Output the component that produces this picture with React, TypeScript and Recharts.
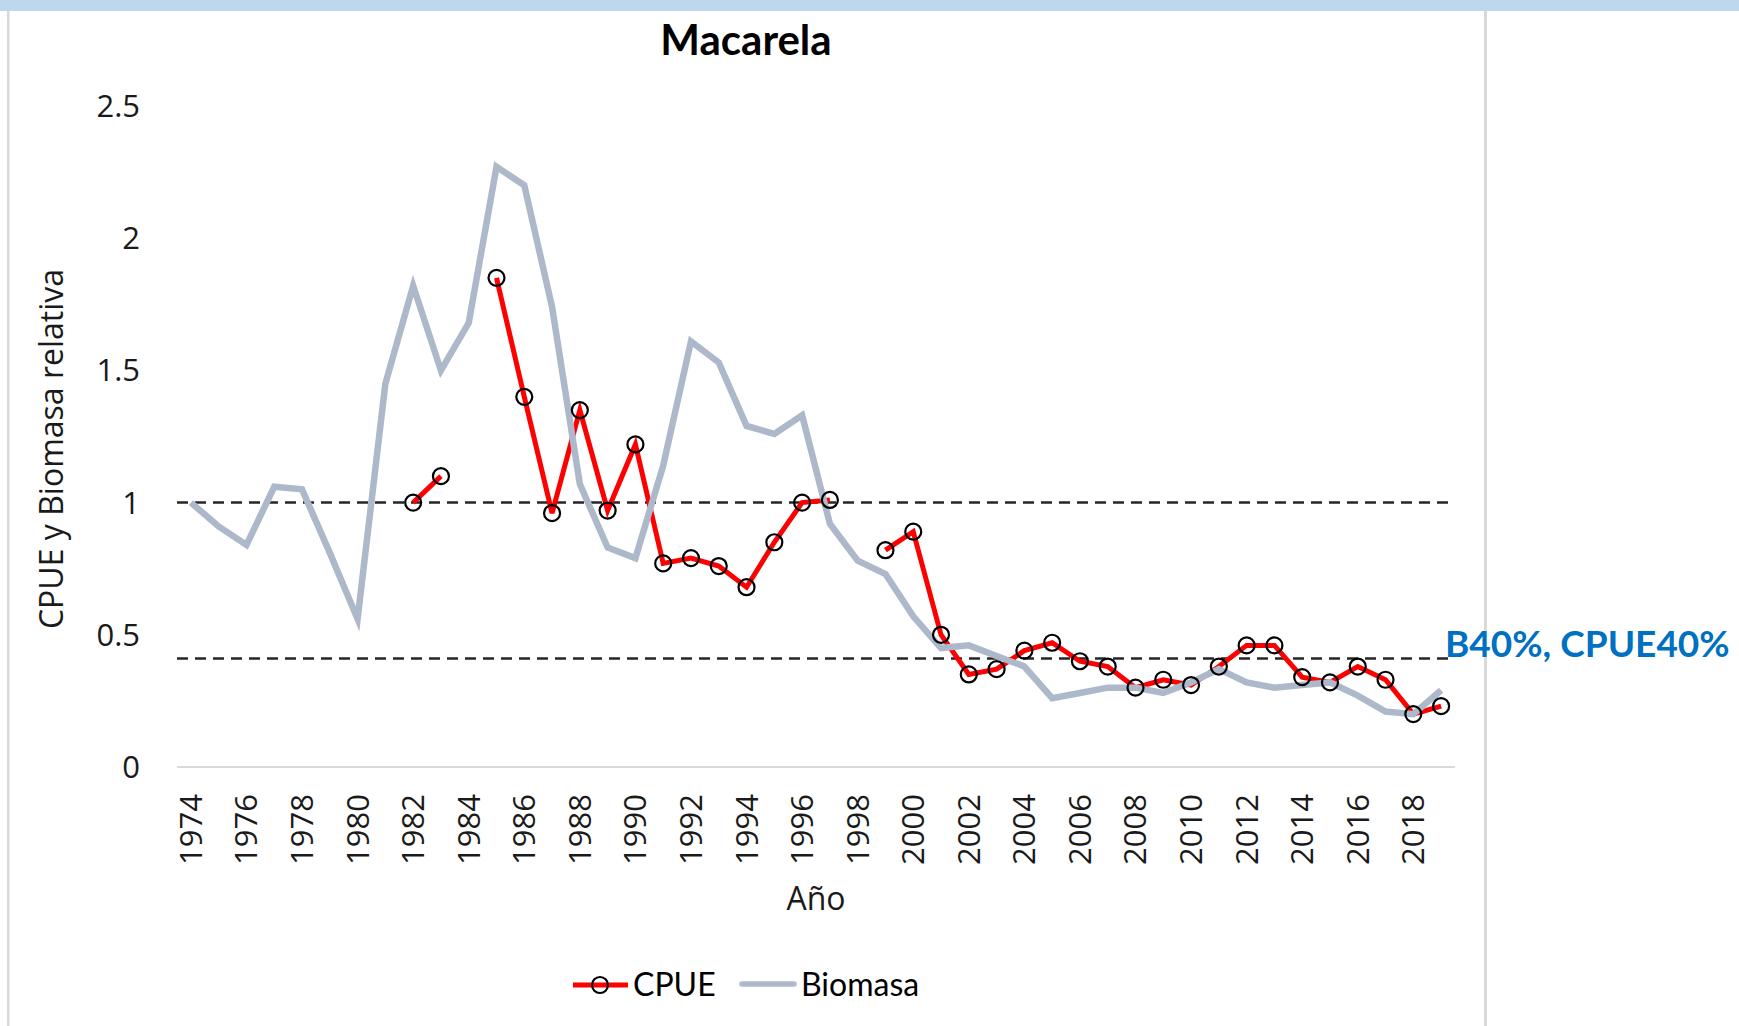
import { LineChart, Line, XAxis, YAxis, ReferenceLine } from 'recharts';

const years = [
  '1974', '1975', '1976', '1977', '1978', '1979', '1980', '1981', '1982', '1983',
  '1984', '1985', '1986', '1987', '1988', '1989', '1990', '1991', '1992', '1993',
  '1994', '1995', '1996', '1997', '1998', '1999', '2000', '2001', '2002', '2003',
  '2004', '2005', '2006', '2007', '2008', '2009', '2010', '2011', '2012', '2013',
  '2014', '2015', '2016', '2017', '2018', '2019',
];

// CPUE relativa (huecos = sin dato)
const cpue = [
  null, null, null, null, null, null, null, null, 1.0, 1.1,
  null, 1.85, 1.4, 0.96, 1.35, 0.97, 1.22, 0.77, 0.79, 0.76,
  0.68, 0.85, 1.0, 1.01, null, 0.82, 0.89, 0.5, 0.35, 0.37,
  0.44, 0.47, 0.4, 0.38, 0.3, 0.33, 0.31, 0.38, 0.46, 0.46,
  0.34, 0.32, 0.38, 0.33, 0.2, 0.23,
];

// Biomasa relativa
const biomasa = [
  1.0, 0.91, 0.84, 1.06, 1.05, 0.81, 0.56, 1.45, 1.82, 1.5,
  1.68, 2.27, 2.2, 1.74, 1.07, 0.83, 0.79, 1.14, 1.61, 1.53,
  1.29, 1.26, 1.33, 0.92, 0.78, 0.73, 0.57, 0.45, 0.46, 0.42,
  0.38, 0.26, 0.28, 0.3, 0.3, 0.28, 0.32, 0.37, 0.32, 0.3,
  0.31, 0.32, 0.27, 0.21, 0.2, 0.29,
];

const yTicks = [0, 0.5, 1, 1.5, 2, 2.5];
const refLevel = 1;
const b40Level = 0.41;
const b40Text = 'B40%, CPUE40%';

const data = years.map((year, i) => ({ year, cpue: cpue[i], biomasa: biomasa[i] }));

const W = 1739;
const H = 1026;
const tickFont = '"Open Sans", sans-serif';
const calFont = 'Lato, sans-serif';

function YearTick(props: any) {
  const { x, y, payload } = props;
  const tx = x + 11;
  return (
    <text
      x={tx}
      y={y}
      transform={`rotate(-90, ${tx}, ${y})`}
      textAnchor="end"
      fontSize={31}
      fontFamily={tickFont}
      fill="#1a1a1a"
    >
      {payload.value}
    </text>
  );
}

function B40Label(props: any) {
  const vb = props.viewBox;
  return (
    <text
      x={vb.x + vb.width - 10}
      y={vb.y - 2}
      fontSize={37}
      fontWeight={700}
      fontFamily={calFont}
      fill="#0070C0"
    >
      {b40Text}
    </text>
  );
}

export default function App() {
  return (
    <div style={{ position: 'absolute', left: 0, top: 0, width: W, height: H, background: '#fff', overflow: 'hidden' }}>
      {/* spreadsheet frame behind the chart */}
      <svg width={W} height={H} style={{ position: 'absolute', left: 0, top: 0 }}>
        <rect x={0} y={0} width={W} height={11} fill="#BDD7EE" />
        <rect x={7} y={11} width={2.5} height={H - 11} fill="#d9d9d9" />
        <rect x={1484} y={11} width={3} height={H - 11} fill="#d9d9d9" />
      </svg>

      <div style={{ position: 'absolute', left: 0, top: 0 }}>
        <LineChart
          width={W}
          height={H}
          data={data}
          margin={{ top: 106, right: 284, bottom: 129, left: 27 }}
        >
          <XAxis
            dataKey="year"
            interval={1}
            height={130}
            padding={{ left: 13.9, right: 13.9 }}
            tickLine={false}
            tickSize={0}
            tickMargin={27}
            axisLine={{ stroke: '#d9d9d9', strokeWidth: 2 }}
            tick={<YearTick />}
          />
          <YAxis
            domain={[0, 2.5]}
            ticks={yTicks}
            width={150}
            axisLine={false}
            tickLine={false}
            tickSize={0}
            tickMargin={37}
            tick={{ fontSize: 31, fill: '#1a1a1a', fontFamily: tickFont }}
          />
          <ReferenceLine y={refLevel} stroke="#262626" strokeWidth={2.5} strokeDasharray="11 7" />
          <ReferenceLine
            y={b40Level}
            stroke="#262626"
            strokeWidth={2.5}
            strokeDasharray="11 7"
            label={(p: any) => <B40Label {...p} />}
          />
          <Line
            dataKey="cpue"
            stroke="#FF0000"
            strokeWidth={5}
            dot={{ r: 8, stroke: '#000', strokeWidth: 2.2, fill: 'none' }}
            activeDot={false}
            connectNulls={false}
            isAnimationActive={false}
          />
          <Line
            dataKey="biomasa"
            stroke="#ADB9CA"
            strokeWidth={6.5}
            dot={false}
            activeDot={false}
            isAnimationActive={false}
          />
        </LineChart>
      </div>

      {/* title, axis titles, legend */}
      <svg width={W} height={H} style={{ position: 'absolute', left: 0, top: 0, pointerEvents: 'none' }}>
        <text x={746} y={55} textAnchor="middle" fontSize={42} fontWeight={700} fontFamily={calFont} fill="#000">
          Macarela
        </text>
        <text
          x={50}
          y={449}
          transform="rotate(-90, 50, 449)"
          textAnchor="middle"
          dominantBaseline="central"
          fontSize={32}
          fontFamily={tickFont}
          fill="#1a1a1a"
        >
          CPUE y Biomasa relativa
        </text>
        <text x={816} y={910} textAnchor="middle" fontSize={32} fontFamily={tickFont} fill="#1a1a1a">
          Año
        </text>

        <line x1={573} y1={985} x2={628} y2={985} stroke="#FF0000" strokeWidth={5} />
        <circle cx={600} cy={985} r={8} fill="none" stroke="#000" strokeWidth={2.2} />
        <text x={633} y={996} fontSize={32} fontFamily={calFont} fill="#000">CPUE</text>
        <line x1={742} y1={984} x2={794} y2={984} stroke="#ADB9CA" strokeWidth={5.5} strokeLinecap="round" />
        <text x={801} y={996} fontSize={32} fontFamily={calFont} fill="#000">Biomasa</text>
      </svg>
    </div>
  );
}
